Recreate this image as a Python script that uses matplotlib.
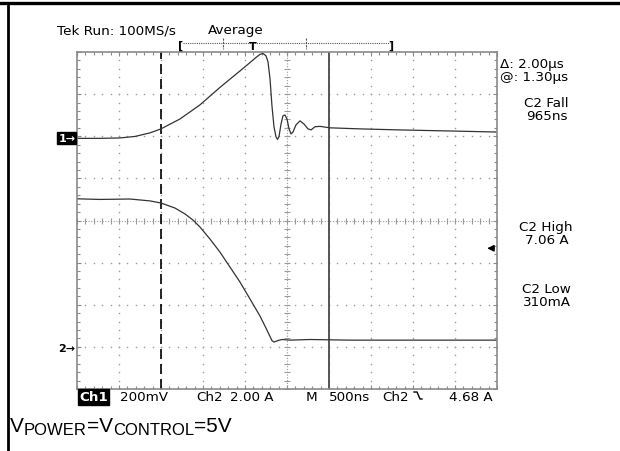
import matplotlib
matplotlib.use("Agg")
from matplotlib import pyplot as plt
from matplotlib.lines import Line2D
import numpy as np

# time in ns (500 ns/div, 10 div on screen)
ch1_t = [0, 274, 512, 690, 869, 1000, 1226, 1464, 1702, 1940, 2060, 2131, 2179,
         2214, 2250, 2274, 2298, 2321, 2345, 2369, 2387, 2405, 2429, 2452, 2476,
         2500, 2524, 2548, 2571, 2607, 2655, 2702, 2750, 2786, 2833, 2893, 3012,
         3369, 3845, 4440, 5000]
# ch1 voltage in mV (200 mV/div)
ch1_mv = [-10, -10, -8, -1, 16, 35, 82, 149, 232, 310, 350, 374, 389,
          393, 382, 353, 272, 144, 45, -3, -15, -1, 58, 97, 101,
          82, 35, 11, 20, 54, 73, 58, 35, 30, 45, 47, 40,
          35, 30, 25, 20]

ch2_t = [0, 274, 631, 869, 1000, 1167, 1286, 1381, 1464, 1583, 1702, 1821,
         1940, 2060, 2179, 2250, 2321, 2345, 2393, 2440, 2536, 2774, 3250,
         3845, 5000]
# ch2 current in A (2 A/div)
ch2_a = [7.03, 7.0, 7.02, 6.93, 6.83, 6.59, 6.31, 6.02, 5.69, 5.12, 4.50, 3.79,
         3.08, 2.27, 1.46, 0.89, 0.30, 0.23, 0.30, 0.35, 0.32, 0.35, 0.32,
         0.32, 0.32]

ch1_ground = 2.0    # divisions from centre
ch2_ground = -3.0
ch1_scale = 200.0   # mV/div
ch2_scale = 2.0     # A/div
trig_level = 4.68   # A
dashed_cursor = 1000
solid_cursor = 3000

W, H = 620, 452


def px(x, y):
    return x / W, 1 - y / H


fig = plt.figure(figsize=(6.2, 4.52), dpi=100)
fig.patch.set_facecolor('white')

# outer table border (top and left only)
fig.add_artist(Line2D([0, 1], [1 - 3.5 / H, 1 - 3.5 / H], color='black', lw=2.4,
                      transform=fig.transFigure))
fig.add_artist(Line2D([8 / W, 8 / W], [0, 1 - 3.5 / H], color='black', lw=2.0,
                      transform=fig.transFigure))

ax = fig.add_axes([77 / W, 1 - 390 / H, 420 / W, 337 / H])
ax.set_xlim(0, 5000)
ax.set_ylim(-4, 4)
for s in ax.spines.values():
    s.set_color('#8a8a8a')
    s.set_linewidth(1.2)
ax.set_xticks(np.arange(0, 5001, 500))
ax.set_xticks(np.arange(0, 5001, 100), minor=True)
ax.set_yticks(np.arange(-4, 4.01, 1))
ax.set_yticks(np.arange(-4, 4.01, 0.2), minor=True)
ax.tick_params(which='both', direction='in', top=True, right=True,
               labelbottom=False, labelleft=False, color='#8a8a8a', width=0.8)
ax.tick_params(which='major', length=3)
ax.tick_params(which='minor', length=2.5)

grid_c = '#9a9a9a'
# dotted graticule
for k in range(1, 10):
    if k == 5:
        continue
    ys = np.arange(-4, 4.01, 0.2)
    ax.plot(np.full_like(ys, k * 500), ys, ls='none', marker='s', ms=1.0,
            mec='none', mfc=grid_c)
for k in [-3, -2, -1, 1, 2, 3]:
    xs = np.arange(0, 5001, 100)
    ax.plot(xs, np.full_like(xs, k, dtype=float), ls='none', marker='s', ms=1.0,
            mec='none', mfc=grid_c)
# centre cross with minor ticks
ax.axhline(0, color=grid_c, lw=0.8, ls=(0, (1, 1.5)))
ax.axvline(2500, color=grid_c, lw=0.8, ls=(0, (1, 1.5)))
xs = np.arange(0, 5001, 100)
ax.plot(xs, np.zeros_like(xs, dtype=float), ls='none', marker='|', ms=4,
        mew=0.8, color=grid_c)
ys = np.arange(-4, 4.01, 0.2)
ax.plot(np.full_like(ys, 2500), ys, ls='none', marker='_', ms=4, mew=0.8,
        color=grid_c)

# cursors
ax.axvline(dashed_cursor, color='black', lw=1.2, ls=(0, (6, 3)))
ax.axvline(solid_cursor, color='#555555', lw=1.4)

# traces
ch1_y = np.array(ch1_mv) / ch1_scale + ch1_ground
ch2_y = np.array(ch2_a) / ch2_scale + ch2_ground
ax.plot(ch1_t, ch1_y, color='#333333', lw=0.9)
ax.plot(ch2_t, ch2_y, color='#333333', lw=0.9)

# trigger level arrow on the right edge
trig_y = trig_level / ch2_scale + ch2_ground
ax.annotate('', xy=(4850, trig_y), xytext=(5000, trig_y),
            arrowprops=dict(arrowstyle='-|>', color='black', lw=0.9,
                            mutation_scale=10),
            annotation_clip=False)

# channel ground markers
ax.text(-20, ch1_ground - 0.05, '1\u2192', ha='right', va='center', fontsize=8,
        color='white', fontweight='bold',
        bbox=dict(boxstyle='square,pad=0.1', fc='black', ec='black'))
ax.text(-20, ch2_ground - 0.03, '2\u2192', ha='right', va='center', fontsize=8,
        color='black', fontweight='bold')

fs = 9.7
font = 'DejaVu Sans'
fig.text(*px(57, 34), 'Tek Run: 100MS/s', fontsize=fs, family=font)
fig.text(*px(208, 34), 'Average', fontsize=fs, family=font)

# record bar
fig.add_artist(Line2D([183 / W, 390 / W], [1 - 44 / H, 1 - 44 / H], color='#555555',
                      lw=0.8, ls=(0, (1, 1)), transform=fig.transFigure))
for xx in [223, 306]:
    fig.add_artist(Line2D([xx / W, xx / W], [1 - 39 / H, 1 - 50 / H], color='#555555',
                          lw=0.8, ls=(0, (2, 1)), transform=fig.transFigure))
fig.text(*px(181, 49), '[', fontsize=8, family=font, ha='center', fontweight='bold')
fig.text(*px(391, 49), ']', fontsize=8, family=font, ha='center', fontweight='bold')
fig.text(*px(253, 50), 'T', fontsize=8, family=font, ha='center', fontweight='bold')

# readouts on the right
fig.text(*px(500, 68), '\u0394: 2.00\u00b5s', fontsize=fs, family=font)
fig.text(*px(500, 81), '@: 1.30\u00b5s', fontsize=fs, family=font)
fig.text(*px(546, 107), 'C2 Fall', fontsize=fs, family=font, ha='center')
fig.text(*px(547, 120.5), '965ns', fontsize=fs, family=font, ha='center')
fig.text(*px(546, 231.5), 'C2 High', fontsize=fs, family=font, ha='center')
fig.text(*px(547, 244), '7.06 A', fontsize=fs, family=font, ha='center')
fig.text(*px(546, 293), 'C2 Low', fontsize=fs, family=font, ha='center')
fig.text(*px(547, 306), '310mA', fontsize=fs, family=font, ha='center')

# bottom readout row
fig.text(*px(79, 401.5), 'Ch1', fontsize=fs, family=font, color='white',
         fontweight='bold',
         bbox=dict(boxstyle='square,pad=0.1', fc='black', ec='black'))
fig.text(*px(120, 401.5), '200mV', fontsize=fs, family=font)
fig.text(*px(196, 401.5), 'Ch2', fontsize=fs, family=font)
fig.text(*px(230, 401.5), '2.00 A', fontsize=fs, family=font)
fig.text(*px(306, 401.5), 'M', fontsize=fs, family=font)
fig.text(*px(329, 401.5), '500ns', fontsize=fs, family=font)
fig.text(*px(382, 401.5), 'Ch2', fontsize=fs, family=font)
fig.add_artist(Line2D([414 / W, 417 / W, 420 / W, 422 / W],
                      [1 - 393 / H, 1 - 393 / H, 1 - 400 / H, 1 - 400 / H],
                      color='black', lw=1.0, transform=fig.transFigure))
fig.text(*px(449, 401.5), '4.68 A', fontsize=fs, family=font)

# caption with subscripts
renderer = fig.canvas.get_renderer()
parts = [('V', 15, 0), ('POWER', 12, 3), ('=V', 15, 0), ('CONTROL', 12, 3),
         ('=5V', 15, 0)]
x = 10
for txt, size, drop in parts:
    t = fig.text(*px(x, 432 + drop), txt, fontsize=size, family='Liberation Sans')
    bb = t.get_window_extent(renderer)
    x = bb.x1

fig.savefig('out.png', dpi=100, facecolor='white')
